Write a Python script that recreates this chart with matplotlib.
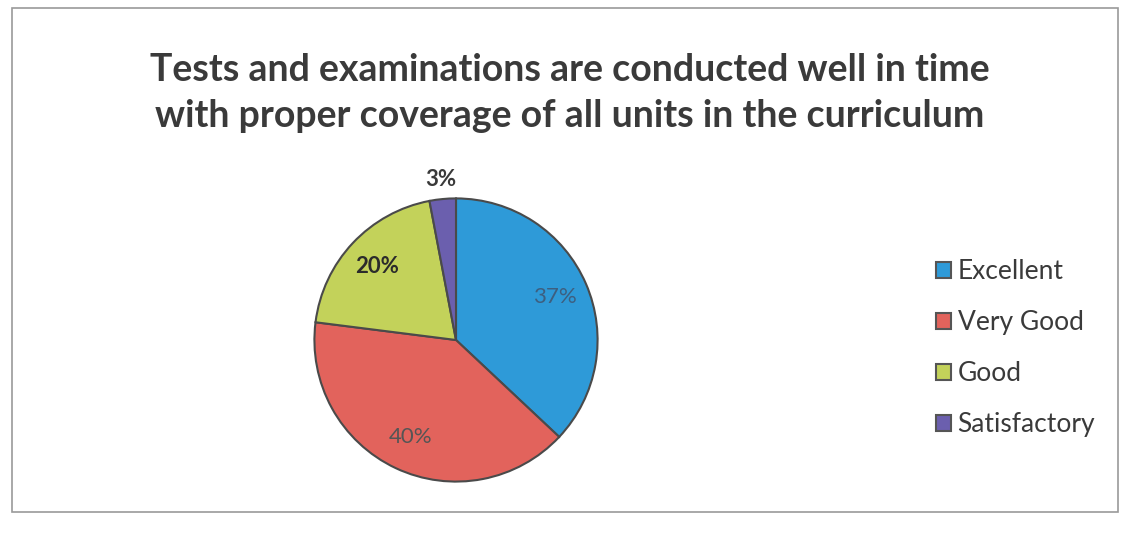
import numpy as np
import matplotlib
matplotlib.use("Agg")
import matplotlib.pyplot as plt
from matplotlib.patches import Rectangle

# ── Data ───────────────────────────────────────────────
categories = ["Excellent", "Very Good", "Good", "Satisfactory"]
shares     = [37, 40, 20, 3]
colors     = ["#2E9AD8", "#E2635C", "#C3D25A", "#6B5FAE"]
title      = ("Tests and examinations are conducted well in time\n"
              "with proper coverage of all units in the curriculum")

plt.rcParams["font.family"] = ["Lato", "DejaVu Sans"]

W, H = 1127, 539
fig = plt.figure(figsize=(W / 100, H / 100), dpi=100)
fig.patch.set_facecolor("white")

# ── Frame ──────────────────────────────────────────────
fig.patches.append(Rectangle((12 / W, 1 - 512 / H), 1106 / W, 504 / H,
                             transform=fig.transFigure, fill=False,
                             edgecolor="#9a9a9a", linewidth=1.2))

# ── Title ──────────────────────────────────────────────
fig.text(570 / W, 1 - 93 / H, title, ha="center", va="center",
         fontsize=27, fontweight="bold", color="#3a3a3a", linespacing=1.42)

# ── Pie ────────────────────────────────────────────────
cx, cy, r = 456, 340, 143
ax = fig.add_axes([(cx - r) / W, (H - cy - r) / H, 2 * r / W, 2 * r / H])
wedges, texts, autotexts = ax.pie(
    shares, colors=colors, startangle=90, counterclock=False,
    autopct="%d%%", pctdistance=0.76,
    wedgeprops=dict(edgecolor="#4a4a4a", linewidth=1.5),
    textprops=dict(fontsize=16, color="#555555"),
)
ax.set_xlim(-1.01, 1.01)
ax.set_ylim(-1.01, 1.01)
ax.set_aspect("equal")

# label styles as in the original
autotexts[0].set_color("#3d5f80")
autotexts[2].set_fontweight("bold")
autotexts[2].set_color("#2b2b2b")
autotexts[3].set_fontweight("bold")
autotexts[3].set_color("#3a3a3a")
w = wedges[3]
mid = np.deg2rad((w.theta1 + w.theta2) / 2)
autotexts[3].set_position((1.14 * np.cos(mid), 1.14 * np.sin(mid)))
autotexts[3].set_clip_on(False)

# ── Legend ─────────────────────────────────────────────
leg = fig.legend(wedges, categories, loc="upper left",
                 bbox_to_anchor=(918 / W, 1 - 241 / H), frameon=False,
                 fontsize=19, handlelength=0.55, handleheight=0.55,
                 handletextpad=0.25, labelspacing=0.98, borderpad=0.2)
for t in leg.get_texts():
    t.set_color("#3a3a3a")
for hnd in leg.legend_handles:
    hnd.set_edgecolor("#555555")

fig.savefig("out.png", dpi=100)
